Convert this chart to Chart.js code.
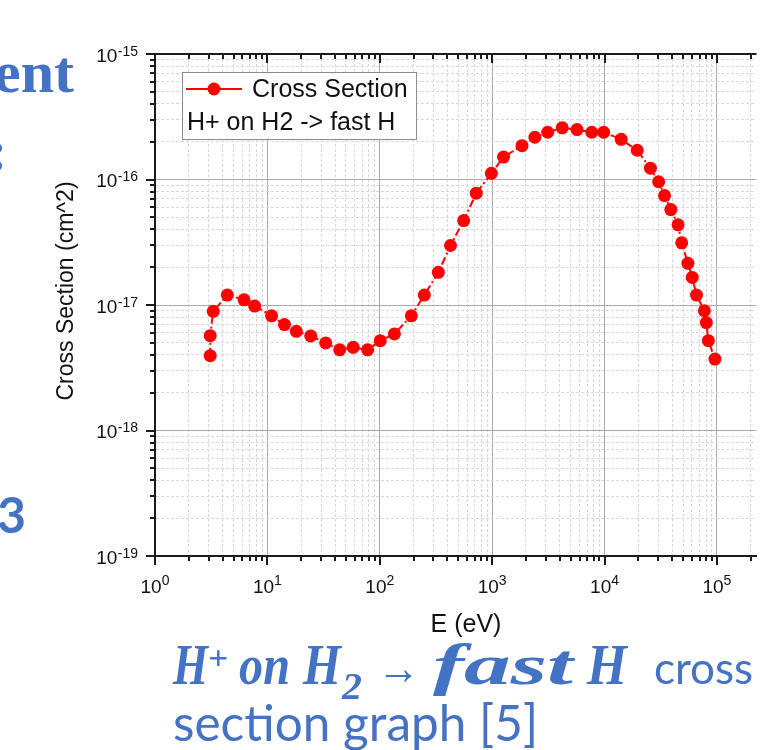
<!DOCTYPE html>
<html>
<head>
<meta charset="utf-8">
<script src="https://cdn.jsdelivr.net/npm/chart.js@4"></script>
<style>
  html, body { margin: 0; padding: 0; background: #fff; }
  #wrap { position: relative; width: 763px; height: 750px; overflow: hidden; }
  #c { position: absolute; left: 0; top: 0; }
  #slide { position: absolute; left: 0; top: 0; pointer-events: none; }
  .m { font-family: "Liberation Serif"; font-weight: bold; font-style: italic; }
</style>
</head>
<body>
<div id="wrap">
  <canvas id="c" width="763" height="750"></canvas>
  <svg id="slide" width="763" height="750" xmlns="http://www.w3.org/2000/svg">
    <g fill="#4472C4">
      <!-- bits of slide text cut off at the left edge -->
      <text x="74" y="92" text-anchor="end" font-family="Liberation Serif" font-weight="bold" font-size="60">ent</text>
      <text x="-12" y="170" font-family="Liberation Serif" font-weight="bold" font-size="58">:</text>
      <text x="26" y="533" text-anchor="end" font-family="Lato" font-weight="bold" font-size="50">3</text>

      <!-- caption, math part: H+ on H2 -> fast H -->
      <text class="m" x="173" y="684" font-size="57" textLength="35" lengthAdjust="spacingAndGlyphs">H</text>
      <text class="m" x="208" y="669" font-size="34" textLength="20" lengthAdjust="spacingAndGlyphs">+</text>
      <text class="m" x="239" y="684" font-size="57" textLength="51" lengthAdjust="spacingAndGlyphs">on</text>
      <text class="m" x="303" y="684" font-size="57" textLength="38" lengthAdjust="spacingAndGlyphs">H</text>
      <text class="m" x="342" y="699" font-size="38" textLength="20" lengthAdjust="spacingAndGlyphs">2</text>
      <text x="377" y="684" font-family="Liberation Serif" font-size="48" textLength="43" lengthAdjust="spacingAndGlyphs">→</text>
      <text class="m" x="433" y="684" font-size="57" textLength="140" lengthAdjust="spacingAndGlyphs">fast</text>
      <text class="m" x="587" y="684" font-size="57" textLength="40" lengthAdjust="spacingAndGlyphs">H</text>
      <text x="654" y="684" font-family="Lato" font-size="44">cross</text>
      <text x="173" y="741" font-family="Lato" font-size="49.5">section graph [5]</text>
    </g>
  </svg>
</div>
<script>
// energy (eV) and cross section (cm^2)
const energy = [
  3.1, 3.1, 3.3, 4.4, 6.2, 7.7, 10.9, 14.2, 18.1, 24.3,
  33, 44, 58, 78, 101, 135, 191, 249, 332, 426,
  558, 722, 984, 1264, 1845, 2400, 3120, 4200, 5690, 7700,
  9820, 14060, 19550, 25600, 30300, 34200, 38900, 45100, 48600, 55200,
  60300, 65800, 77300, 80500, 83900, 96000,
];
const crossSection = [
  3.95e-18, 5.7e-18, 8.9e-18, 1.2e-17, 1.1e-17, 9.8e-18, 8.2e-18, 6.98e-18, 6.17e-18, 5.67e-18,
  4.99e-18, 4.39e-18, 4.6e-18, 4.39e-18, 5.2e-18, 5.88e-18, 8.2e-18, 1.2e-17, 1.82e-17, 2.98e-17,
  4.71e-17, 7.78e-17, 1.12e-16, 1.51e-16, 1.86e-16, 2.17e-16, 2.38e-16, 2.58e-16, 2.5e-16, 2.38e-16,
  2.38e-16, 2.09e-16, 1.71e-16, 1.23e-16, 9.6e-17, 7.45e-17, 5.76e-17, 4.35e-17, 3.13e-17, 2.15e-17,
  1.66e-17, 1.2e-17, 9.0e-18, 7.24e-18, 5.2e-18, 3.71e-18,
];

// tick labels are 10^decade
const xDecades = [0, 1, 2, 3, 4, 5];
const yDecades = [-19, -18, -17, -16, -15];
const minorSteps = [1, 2, 3, 4, 5, 6, 7, 8, 9];

const seriesLabel = 'Cross Section';
const legendNote = 'H+ on H2 -> fast H';
const xTitle = 'E (eV)';
const yTitle = 'Cross Section (cm^2)';

const X_MIN = 1, X_MAX = 2.25e5;
const Y_MIN = 1e-19, Y_MAX = 1e-15;
const RED = '#ff0000';
const INK = '#111111';

function logTicks(decades, lo, hi) {
  const out = [];
  decades.forEach(function (d) {
    minorSteps.forEach(function (m) {
      const v = m * Math.pow(10, d);
      if (v >= lo * 0.999 && v <= hi * 1.001) out.push({ value: v, major: m === 1 });
    });
  });
  return out;
}

const isMajor = (c) => c.tick && c.tick.major;

// axis frame, tick marks, tick labels, titles and the legend box
const framePlugin = {
  id: 'frame',
  afterDraw(chart) {
    const ctx = chart.ctx;
    const a = chart.chartArea;
    const x = chart.scales.x;
    const y = chart.scales.y;
    ctx.save();

    // top axis line
    ctx.strokeStyle = '#1a1a1a';
    ctx.lineWidth = 2;
    ctx.beginPath();
    ctx.moveTo(a.left - 1, a.top);
    ctx.lineTo(a.right, a.top);
    ctx.stroke();

    // tick marks
    ctx.lineWidth = 2;
    x.ticks.forEach(function (t) {
      const px = Math.round(x.getPixelForValue(t.value));
      const len = t.major ? 9 : 5;
      ctx.beginPath();
      ctx.moveTo(px, a.bottom);
      ctx.lineTo(px, a.bottom + len);
      ctx.moveTo(px, a.top);
      ctx.lineTo(px, a.top + len);
      ctx.stroke();
    });
    y.ticks.forEach(function (t) {
      const py = Math.round(y.getPixelForValue(t.value));
      const len = t.major ? 9 : 5;
      ctx.beginPath();
      ctx.moveTo(a.left, py);
      ctx.lineTo(a.left - len, py);
      ctx.stroke();
    });

    // tick labels
    const baseFont = '19px "Liberation Sans"';
    const supFont = '14px "Liberation Sans"';
    ctx.fillStyle = INK;
    ctx.textBaseline = 'alphabetic';
    xDecades.forEach(function (d) {
      const px = x.getPixelForValue(Math.pow(10, d));
      ctx.font = baseFont;
      const wb = ctx.measureText('10').width;
      ctx.font = supFont;
      const ws = ctx.measureText(String(d)).width;
      const left = px - (wb + ws) / 2;
      ctx.textAlign = 'left';
      ctx.font = baseFont;
      ctx.fillText('10', left, a.bottom + 37);
      ctx.font = supFont;
      ctx.fillText(String(d), left + wb, a.bottom + 29);
    });
    yDecades.forEach(function (d) {
      const py = y.getPixelForValue(Math.pow(10, d));
      const right = 138;
      ctx.font = supFont;
      const ws = ctx.measureText(String(d)).width;
      ctx.textAlign = 'right';
      ctx.fillText(String(d), right, py + 1.5);
      ctx.font = baseFont;
      ctx.fillText('10', right - ws - 0.5, py + 7.5);
    });

    // axis titles
    ctx.textAlign = 'center';
    ctx.font = '25px "Liberation Sans"';
    ctx.fillText(xTitle, 466, 632);
    ctx.save();
    ctx.translate(67, 291);
    ctx.rotate(-Math.PI / 2);
    ctx.textBaseline = 'middle';
    ctx.font = '23px "Liberation Sans"';
    ctx.fillText(yTitle, 0, 0);
    ctx.restore();

    // legend
    ctx.fillStyle = '#ffffff';
    ctx.fillRect(182, 72, 234, 67);
    ctx.strokeStyle = '#8c8c8c';
    ctx.lineWidth = 1;
    ctx.strokeRect(182.5, 72.5, 234, 67);
    ctx.strokeStyle = RED;
    ctx.lineWidth = 2;
    ctx.beginPath();
    ctx.moveTo(186, 89);
    ctx.lineTo(242, 89);
    ctx.stroke();
    ctx.fillStyle = RED;
    ctx.beginPath();
    ctx.arc(214, 89, 6.5, 0, Math.PI * 2);
    ctx.fill();
    ctx.fillStyle = INK;
    ctx.textAlign = 'left';
    ctx.textBaseline = 'alphabetic';
    ctx.font = '25px "Liberation Sans"';
    ctx.fillText(seriesLabel, 252, 97);
    ctx.fillText(legendNote, 187, 130);

    ctx.restore();
  },
};

Chart.defaults.font.family = '"Liberation Sans", Arial, sans-serif';

const chart = new Chart(document.getElementById('c'), {
  type: 'scatter',
  data: {
    datasets: [
      {
        label: seriesLabel,
        data: energy.map((e, i) => ({ x: e, y: crossSection[i] })),
        showLine: true,
        borderColor: RED,
        borderWidth: 2,
        borderDash: [8, 3, 2, 3],
        pointRadius: 6.5,
        pointBackgroundColor: RED,
        pointBorderColor: RED,
        pointBorderWidth: 0,
        tension: 0,
      },
    ],
  },
  options: {
    responsive: false,
    devicePixelRatio: 1,
    animation: false,
    layout: { padding: { left: 0, right: 0, top: 54, bottom: 154 } },
    plugins: {
      legend: { display: false },
      tooltip: { enabled: false },
    },
    scales: {
      x: {
        type: 'logarithmic',
        min: X_MIN,
        max: X_MAX,
        afterBuildTicks: (s) => { s.ticks = logTicks(xDecades, X_MIN, X_MAX); },
        afterFit: (s) => { s.height = 40; },
        ticks: { display: false, autoSkip: false },
        grid: {
          color: (c) => (isMajor(c) ? '#aaaaaa' : '#d8d8d8'),
          lineWidth: 1,
          drawTicks: false,
        },
        border: {
          display: true,
          color: '#1a1a1a',
          width: 2,
          dash: (c) => (c.tick && !c.tick.major ? [3, 2] : []),
        },
      },
      y: {
        type: 'logarithmic',
        min: Y_MIN,
        max: Y_MAX,
        afterBuildTicks: (s) => { s.ticks = logTicks(yDecades, Y_MIN, Y_MAX); },
        afterFit: (s) => { s.width = 155; },
        ticks: { display: false, autoSkip: false },
        grid: {
          color: (c) => (isMajor(c) ? '#aaaaaa' : '#d8d8d8'),
          lineWidth: 1,
          drawTicks: false,
        },
        border: {
          display: true,
          color: '#1a1a1a',
          width: 2,
          dash: (c) => (c.tick && !c.tick.major ? [3, 2] : []),
        },
      },
    },
  },
  plugins: [framePlugin],
});
</script>
</body>
</html>
